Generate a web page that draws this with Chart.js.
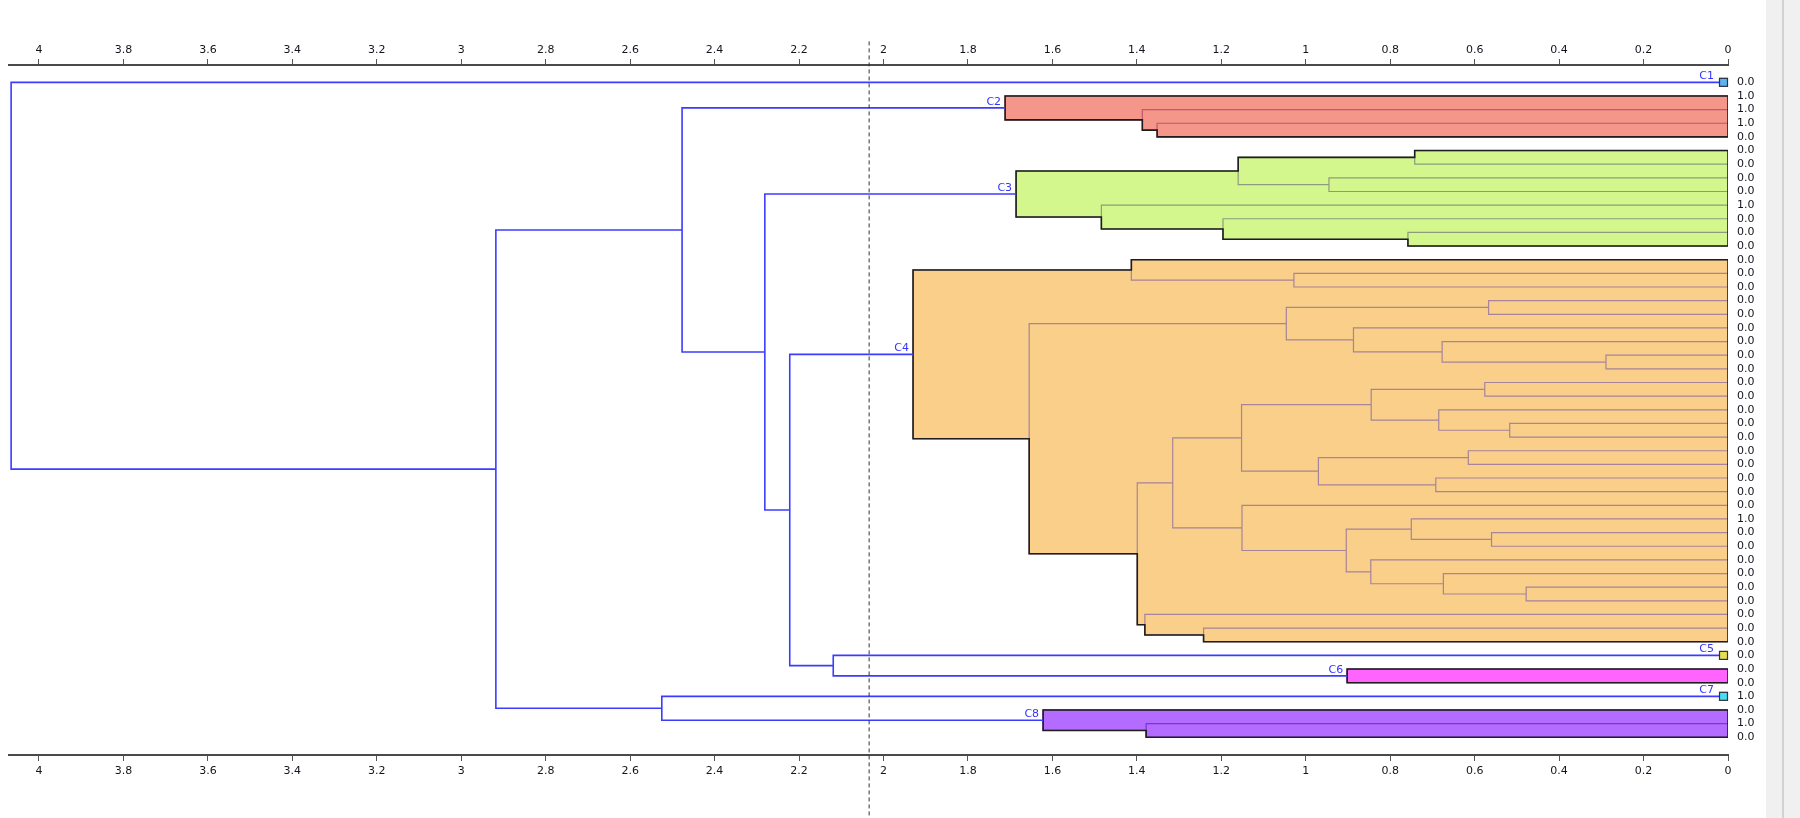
<!DOCTYPE html>
<html>
<head>
<meta charset="utf-8">
<title>Dendrogram</title>
<script src="https://cdn.jsdelivr.net/npm/chart.js@4.4.1/dist/chart.umd.min.js"></script>
<style>
  html, body { margin: 0; padding: 0; background: #fff; }
  #wrap { position: relative; width: 1800px; height: 818px; overflow: hidden; }
  #chart { position: absolute; left: 0; top: 0; }
  #side { position: absolute; left: 1766px; top: 0; width: 34px; height: 818px; background: #f0f0f0; }
  #side::after { content: ""; position: absolute; left: 16px; top: 0; width: 2px; height: 818px; background: #d2d2d2; }
</style>
</head>
<body>
<div id="wrap">
  <canvas id="chart" width="1766" height="818"></canvas>
  <div id="side"></div>
</div>
<script>
// ---- Data ----

// Value printed next to each leaf, top to bottom
const leafValues = [
    0,
    1, 1, 1, 0,
    0, 0, 0, 0, 1, 0, 0, 0,
    0, 0, 0, 0, 0, 0, 0, 0, 0, 0, 0, 0, 0, 0, 0, 0, 0, 0, 0, 1, 0, 0, 0, 0, 0, 0, 0, 0, 0,
    0,
    0, 0,
    1,
    0, 1, 0
];

// Merges (linkage): merge k joins mergeA[k] (upper) and mergeB[k] (lower) at mergeHeight[k]
// and creates node id leafValues.length + k
const mergeA = [3, 2, 1, 5, 7, 52, 11, 10, 9, 54, 14, 13, 16, 20, 19, 18, 61, 22, 25, 24, 66, 27, 29, 70,
                69, 33, 32, 37, 36, 35, 75, 31, 73, 40, 39, 81, 65, 60, 43, 47, 46, 42, 86, 58, 51, 45, 93, 0];
const mergeB = [4, 49, 50, 6, 8, 53, 12, 55, 56, 57, 15, 59, 17, 21, 62, 63, 64, 23, 26, 67, 68, 28, 30, 71,
                72, 34, 74, 38, 76, 77, 78, 79, 80, 41, 82, 83, 84, 85, 44, 48, 88, 87, 90, 91, 92, 89, 94, 95];
const mergeHeight = [1.352, 1.387, 1.712, 0.742, 0.945, 1.160, 0.758, 1.196, 1.484, 1.686, 1.028, 1.413,
                     0.567, 0.289, 0.677, 0.887, 1.046, 0.576, 0.517, 0.685, 0.845, 0.615, 0.692, 0.970,
                     1.152, 0.560, 0.750, 0.478, 0.674, 0.846, 0.904, 1.151, 1.315, 1.242, 1.381, 1.399,
                     1.655, 1.930, 0.902, 1.378, 1.622, 2.119, 2.222, 2.281, 2.477, 2.525, 2.918, 4.066];

const cutHeight = 2.034;
const clusterNames = ["C1", "C2", "C3", "C4", "C5", "C6", "C7", "C8"];

// axis ticks
const axisMax = 4.071;
const axisStep = 0.2;

// ---- Styles ----
const clusterColors     = ["#5cb4ec", "#f5968a", "#d3f78c", "#f9cf8a", "#e6dc55", "#ff64ff", "#46def2", "#b36cff"];
const clusterLineColors = ["#1e1e1e", "#c2566e", "#8e9c7e", "#a8849a", "#1e1e1e", "#a030a0", "#1e1e1e", "#7436d6"];
const LINK_BLUE = "#3c3cff";
const OUTLINE   = "#1e1e1e";

// ---- Tree helpers ----
const nLeaves = leafValues.length;
const rootId = nLeaves + mergeHeight.length - 1;

const childA = (id) => mergeA[id - nLeaves];
const childB = (id) => mergeB[id - nLeaves];
const height = (id) => (id < nLeaves ? 0 : mergeHeight[id - nLeaves]);

function nodeY(id) {
    if (id < nLeaves) return id;
    return (nodeY(childA(id)) + nodeY(childB(id))) / 2;
}

// "⊐" shaped link of an internal node, followed by a gap
function linkPath(id) {
    const a = childA(id), b = childB(id), h = height(id);
    return [
        { x: height(a), y: nodeY(a) },
        { x: h, y: nodeY(a) },
        { x: h, y: nodeY(b) },
        { x: height(b), y: nodeY(b) },
        { x: null, y: null }
    ];
}

function internalNodes(id, out = []) {
    if (id < nLeaves) return out;
    out.push(id);
    internalNodes(childA(id), out);
    internalNodes(childB(id), out);
    return out;
}

// Outer edge of a subtree: follow first (top) or last (bottom) children down to a leaf
function contour(id, bottom) {
    const pts = [];
    let cur = id;
    while (cur >= nLeaves) {
        const child = bottom ? childB(cur) : childA(cur);
        pts.push({ x: height(cur), y: nodeY(child) });
        pts.push({ x: height(child), y: nodeY(child) });
        cur = child;
    }
    return pts;
}

// Split tree at the cut: clusters are the highest subtrees below it
const clusterRoots = [];
const blueLinks = [];
(function walk(id) {
    if (height(id) < cutHeight) { clusterRoots.push(id); return; }
    blueLinks.push(...linkPath(id));
    walk(childA(id));
    walk(childB(id));
})(rootId);

// ---- Datasets ----
const datasets = [];
clusterRoots.forEach((c, i) => {
    if (c < nLeaves) return; // singletons get a small square (plugin below)
    const poly = contour(c, false).reverse().concat(contour(c, true));
    poly.push({ ...poly[0] });

    datasets.push({ data: poly, fill: "shape", backgroundColor: clusterColors[i],
                    borderColor: "transparent", borderWidth: 1, order: 50 });
    datasets.push({ data: internalNodes(c).flatMap(linkPath), borderColor: clusterLineColors[i],
                    borderWidth: 1.2, order: 40 });
    datasets.push({ data: poly, borderColor: OUTLINE, borderWidth: 1.6, order: 30 });
});
datasets.push({ data: blueLinks, borderColor: LINK_BLUE, borderWidth: 1.6, order: 20 });
datasets.push({ data: [{ x: cutHeight, y: -3 }, { x: cutHeight, y: 54 }], borderColor: "#333",
                borderWidth: 1, borderDash: [4, 3], clip: false, order: 10 });

// ---- Cluster labels and singleton squares ----
const clusterLabelPlugin = {
    id: "clusterLabels",
    afterDatasetsDraw(chart) {
        const { ctx, scales: { x, y } } = chart;
        const right = x.getPixelForValue(0);
        ctx.save();
        ctx.font = '11px "DejaVu Sans"';
        ctx.textAlign = "right";
        ctx.textBaseline = "alphabetic";
        clusterRoots.forEach((c, i) => {
            const py = y.getPixelForValue(nodeY(c));
            let px;
            if (c < nLeaves) {
                ctx.fillStyle = clusterColors[i];
                ctx.fillRect(right - 9, py - 4.5, 9, 9);
                ctx.strokeStyle = "#303040";
                ctx.lineWidth = 1.2;
                ctx.strokeRect(right - 8.5, py - 4, 8, 8);
                px = right - 14;
            } else {
                px = x.getPixelForValue(height(c)) - 4;
            }
            ctx.fillStyle = "#3535ff";
            ctx.fillText(clusterNames[i], px, py - 3);
        });
        ctx.restore();
    }
};

// ---- Chart ----
Chart.defaults.font.family = '"DejaVu Sans", sans-serif';
Chart.defaults.font.size = 11;
Chart.defaults.color = "#14141e";

const xAxis = (position, boxHeight, pad) => ({
    type: "linear",
    position,
    reverse: true,
    min: 0,
    max: axisMax,
    ticks: {
        stepSize: axisStep, includeBounds: false, autoSkip: false, maxRotation: 0, padding: pad,
        callback: (v) => String(Math.round(v * 10) / 10)
    },
    grid: { drawOnChartArea: false, drawTicks: true, tickLength: 6, color: "#555" },
    border: { color: "#4a4a4a", width: 2 },
    afterFit(scale) { scale.height = boxHeight; }
});

new Chart(document.getElementById("chart"), {
    type: "line",
    data: { datasets },
    options: {
        responsive: false,
        animation: false,
        events: [],
        layout: { padding: { left: 9, right: 0, top: 0, bottom: 0 } },
        elements: {
            point: { radius: 0 },
            line: { tension: 0, fill: false, borderJoinStyle: "miter" }
        },
        plugins: { legend: { display: false }, tooltip: { enabled: false } },
        scales: {
            x: xAxis("bottom", 63, 4),
            xTop: xAxis("top", 65, 2),
            y: {
                type: "linear",
                position: "right",
                reverse: true,
                min: -1.27,
                max: 49.3,
                afterBuildTicks(scale) { scale.ticks = leafValues.map((v, i) => ({ value: i })); },
                ticks: { autoSkip: false, padding: 9, callback: (v) => leafValues[v].toFixed(1) },
                grid: { display: false, drawTicks: false },
                border: { display: false },
                afterFit(scale) { scale.width = 38; }
            }
        }
    },
    plugins: [clusterLabelPlugin]
});
</script>
</body>
</html>
